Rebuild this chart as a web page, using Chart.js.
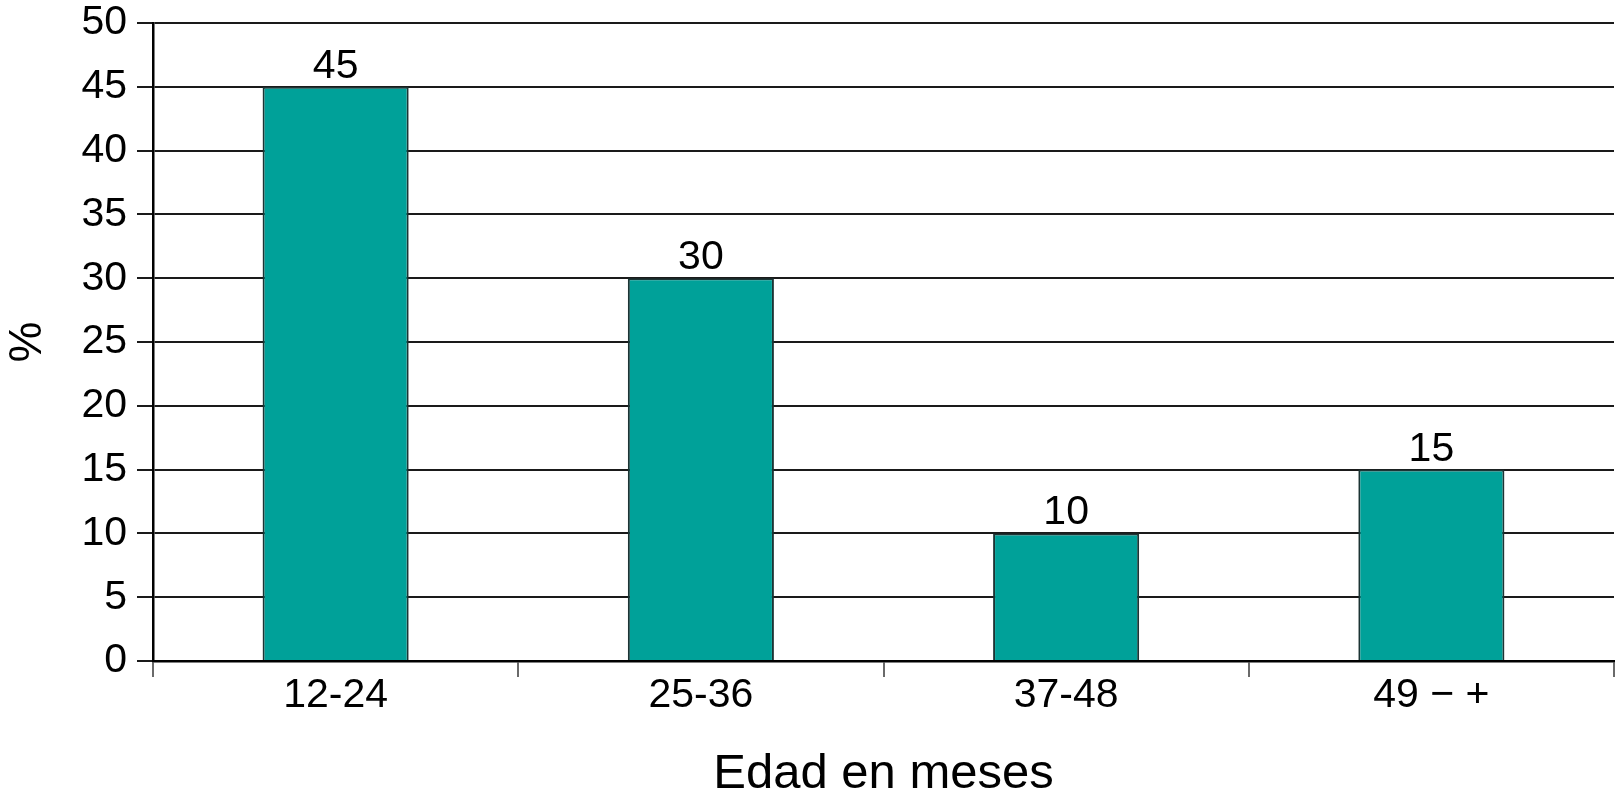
<!DOCTYPE html>
<html lang="es">
<head>
<meta charset="utf-8">
<title>Edad en meses</title>
<script src="https://cdn.jsdelivr.net/npm/chart.js@4/dist/chart.umd.min.js"></script>
<style>
    html, body { margin: 0; padding: 0; background: #fff; }
    #wrap { width: 1617px; height: 812px; }
</style>
</head>
<body>
<div id="wrap"><canvas id="ageChart" width="1617" height="812"></canvas></div>
<script>
// values
const categories = ["12-24", "25-36", "37-48", "49 \u2212 +"];
const percentages = [45, 30, 10, 15];
const yMin = 0;
const yMax = 50;
const yStep = 5;

const FONT = "'Liberation Sans', Arial, Helvetica, sans-serif";

// value labels above each bar
const barValues = {
    id: "barValues",
    afterDatasetsDraw(chart) {
        const { ctx } = chart;
        const meta = chart.getDatasetMeta(0);
        ctx.save();
        ctx.font = "41px " + FONT;
        ctx.fillStyle = "#000";
        ctx.textAlign = "center";
        ctx.textBaseline = "alphabetic";
        meta.data.forEach((bar, i) => {
            ctx.fillText(String(percentages[i]), bar.x, bar.y - 9);
        });
        ctx.restore();
    },
};

new Chart(document.getElementById("ageChart").getContext("2d"), {
    type: "bar",
    data: {
        labels: categories,
        datasets: [
            {
                data: percentages,
                backgroundColor: "#00a199",
                borderColor: "#1c3434",
                borderWidth: 2,
                categoryPercentage: 1,
                barPercentage: 0.4,
            },
        ],
    },
    options: {
        responsive: false,
        animation: false,
        layout: { padding: { top: 23, right: 3, bottom: 0, left: 0 } },
        plugins: {
            legend: { display: false },
            tooltip: { enabled: false },
        },
        scales: {
            x: {
                offset: true,
                grid: {
                    offset: true,
                    drawOnChartArea: true,
                    color: (c) => (c.index === categories.length ? "#8a8a8a" : "rgba(0,0,0,0)"),
                    tickColor: "#6a6a6a",
                    tickLength: 16,
                    lineWidth: 2,
                },
                border: { color: "#000", width: 2.5 },
                ticks: {
                    color: "#000",
                    font: { family: FONT, size: 41 },
                    padding: -6,
                },
                title: {
                    display: true,
                    text: "Edad en meses",
                    color: "#000",
                    font: { family: FONT, size: 49 },
                    padding: { top: 0, bottom: 8 },
                },
                afterFit(scale) {
                    scale.height = 151;
                    scale.paddingLeft = 0;
                    scale.paddingRight = 0;
                },
            },
            y: {
                min: yMin,
                max: yMax,
                grid: {
                    color: "#1a1a1a",
                    lineWidth: 2,
                    tickColor: "#1a1a1a",
                    tickLength: 16,
                },
                border: { color: "#000", width: 2.5 },
                ticks: {
                    stepSize: yStep,
                    color: "#000",
                    font: { family: FONT, size: 41 },
                    padding: 10,
                },
                title: {
                    display: true,
                    text: "%",
                    color: "#000",
                    font: { family: FONT, size: 46, lineHeight: 1 },
                    padding: { top: 5, bottom: 0 },
                },
                afterFit(scale) {
                    scale.width = 153;
                    scale.paddingTop = 0;
                    scale.paddingBottom = 0;
                },
            },
        },
    },
    plugins: [barValues],
});
</script>
</body>
</html>
